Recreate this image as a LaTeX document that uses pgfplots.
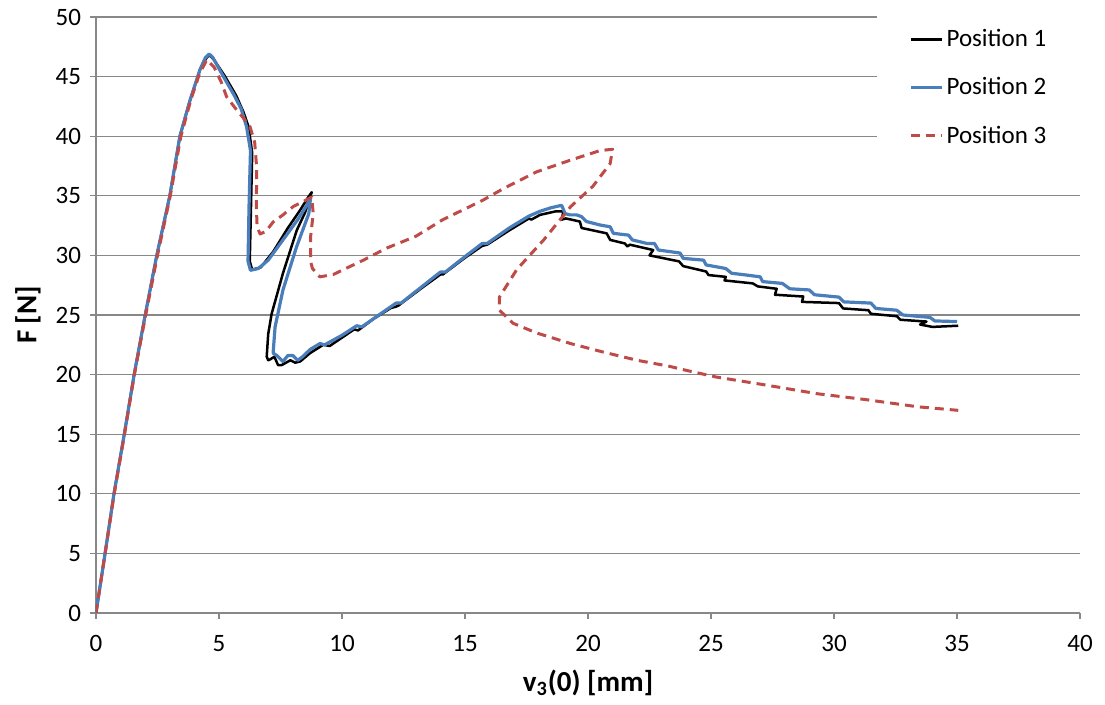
\documentclass[border=0pt]{standalone}
\usepackage{pgfplots}
\pgfplotsset{compat=1.18}
\usepackage{fontspec}
\setmainfont{Carlito}
\definecolor{exblue}{HTML}{4A7EBB}
\definecolor{exred}{HTML}{BE4B48}
\definecolor{gridgray}{HTML}{888888}
\begin{document}
\begin{tikzpicture}
\begin{axis}[
  scale only axis,
  width=492pt, height=298pt,
  xmin=0, xmax=40, ymin=0, ymax=50,
  xtick={0,5,...,40}, ytick={0,5,...,50},
  axis lines*=left,
  axis line style={gridgray, line width=0.6pt},
  tick style={gridgray, line width=0.6pt},
  tick align=outside,
  major tick length=3pt,
  ymajorgrids,
  grid style={gridgray, line width=0.6pt},
  /pgf/number format/assume math mode=true,
  tick label style={font=\fontsize{12.5}{15}\selectfont},
  xticklabel style={yshift=-4.5pt},
  yticklabel style={xshift=-1pt},
  xlabel={v\textsubscript{3}(0) [mm]},
  ylabel={F [N]},
  every axis x label/.style={at={(rel axis cs:0.5,0)}, yshift=-35pt, anchor=center, font=\fontsize{14.5}{17}\selectfont\bfseries},
  every axis y label/.style={at={(rel axis cs:0,0.5)}, xshift=-34pt, rotate=90, anchor=center, font=\fontsize{14.5}{17}\selectfont\bfseries},
  legend style={at={(rel axis cs:0.7937,1.012)}, anchor=north west, draw=none, fill=white,
    font=\fontsize{12.5}{15}\selectfont, inner xsep=16pt, inner ysep=8pt, row sep=11pt,
    nodes={inner sep=1.5pt}},
  legend cell align=left,
  legend image code/.code={\draw[#1] (0pt,0pt) -- (15.5pt,0pt);},
  line join=round,
]
\addplot[black, line width=1.25pt] coordinates {
(0,0) (0.37,5) (0.73,10) (1.15,15) (1.55,20) (2.0,25) (2.47,30) (3.0,35) (3.41,40) (3.82,43)
(4.23,45.6) (4.5,46.6) (4.62,46.8) (4.8,46.4) (5.25,45.0) (5.7,43.4) (6.0,42.0) (6.2,40.8)
(6.35,38.6) (6.3,34.0) (6.25,29.5) (6.35,28.8) (6.7,29.0) (7.2,30.3) (7.8,32.3) (8.3,33.8)
(8.6,34.8) (8.77,35.3) (8.5,33.6) (8.16,32.1) (7.6,28.5) (7.14,25.1) (7.0,23.4) (6.94,21.5)
(7.0,21.2) (7.1,21.3) (7.25,21.5) (7.4,20.8) (7.55,20.8) (7.9,21.2) (8.1,21.0) (8.3,21.1)
(8.7,21.8) (9.24,22.5) (9.5,22.4) (10.0,23.1) (10.5,23.8) (10.65,23.7) (11.3,24.7) (12.0,25.6)
(12.2,25.7) (12.3,25.8) (13.2,27.2) (14.0,28.4) (14.1,28.4) (15.0,29.8) (15.7,30.8) (15.9,30.9)
(16.8,32.1) (17.6,33.1) (17.7,33.0) (18.05,33.4) (18.7,33.7) (19.0,33.7) (18.93,33.0) (19.1,33.1)
(19.67,32.84) (19.74,32.3) (20.76,31.85) (20.9,31.3) (21.5,31.0) (21.6,30.75) (21.7,30.9)
(22.65,30.45) (22.5,30.0) (23.7,29.5) (23.87,29.1) (24.8,28.65) (24.9,28.35) (25.6,28.2)
(25.55,27.9) (26.7,27.65) (26.9,27.4) (27.67,27.2) (27.6,26.7) (28.75,26.55) (28.7,26.1)
(30.2,26.0) (30.37,25.55) (31.4,25.4) (31.5,25.1) (32.55,24.9) (32.7,24.6) (33.76,24.45)
(33.5,24.2) (34.0,24.0) (35.05,24.1)
};
\addlegendentry{Position 1}
\addplot[exblue, line width=1.6pt] coordinates {
(0,0) (0.37,5) (0.73,10) (1.15,15) (1.55,20) (2.0,25) (2.47,30) (3.0,35) (3.41,40) (3.82,43)
(4.23,45.6) (4.45,46.6) (4.6,46.9) (4.75,46.6) (5.18,45.0) (5.6,43.5) (5.9,42.3) (6.12,40.8)
(6.28,38.8) (6.22,34.0) (6.18,29.5) (6.28,28.75) (6.6,28.9) (7.0,29.6) (7.6,31.3) (8.2,33.0)
(8.6,34.3) (8.72,34.8) (8.65,33.5) (8.15,30.7) (7.6,27.1) (7.28,24.0) (7.2,21.8) (7.35,21.6)
(7.6,21.1) (7.8,21.6) (8.0,21.6) (8.2,21.2) (8.4,21.5) (8.7,22.1) (9.1,22.6) (9.3,22.5)
(10.0,23.3) (10.6,24.1) (10.8,24.0) (11.5,25.0) (12.2,26.0) (12.4,26.0) (13.2,27.3) (14.0,28.6)
(14.2,28.6) (15.0,29.9) (15.7,31.0) (15.9,31.0) (16.8,32.3) (17.6,33.3) (18.05,33.7) (18.5,34.0)
(18.93,34.2) (19.07,33.5) (19.27,33.4) (19.54,33.4) (19.74,33.25) (19.94,32.84) (20.49,32.55)
(20.9,32.4) (21.03,31.85) (21.65,31.7) (21.8,31.3) (22.4,31.0) (22.7,31.0) (22.86,30.45)
(23.74,30.2) (23.87,29.75) (24.7,29.6) (24.8,29.2) (25.6,28.9) (25.84,28.5) (26.45,28.35)
(27.0,28.2) (27.1,27.8) (27.9,27.65) (28.2,27.2) (29.0,27.1) (29.2,26.7) (30.2,26.5) (30.4,26.1)
(31.5,26.0) (31.7,25.55) (32.55,25.4) (32.8,25.0) (33.9,24.8) (34.1,24.5) (35.0,24.45)
};
\addlegendentry{Position 2}
\addplot[exred, line width=1.5pt, dash pattern=on 4.5pt off 3pt] coordinates {
(0,0) (0.37,5) (0.74,10) (1.16,15) (1.56,20) (2.02,25) (2.5,30) (3.02,35) (3.45,40) (3.85,43)
(4.2,45.2) (4.5,46.4) (4.8,45.8) (5.1,44.5) (5.31,43.3) (5.72,42.2) (6.0,41.5) (6.26,40.8)
(6.45,39.5) (6.53,37.4) (6.52,34) (6.55,32.4) (6.67,31.8) (6.9,32.0) (7.2,32.8) (7.6,33.4)
(8.02,34.1) (8.5,34.6) (8.77,34.9) (8.83,33.5) (8.72,31.5) (8.72,29.5) (8.8,28.9) (9.1,28.2)
(9.65,28.4) (10.05,28.8) (10.87,29.6) (11.8,30.6) (13.0,31.6) (14.1,33.0) (15.7,34.6)
(16.56,35.6) (17.9,37.0) (19.3,38.0) (20.5,38.8) (21.0,38.9) (20.9,37.7) (20.2,35.8)
(19.3,34.1) (18.2,31.3) (17.1,28.8) (16.4,26.5) (16.4,25.4) (16.96,24.3) (17.9,23.5)
(19.3,22.6) (20.6,21.9) (22.0,21.2) (23.3,20.7) (23.9,20.4) (25.2,19.8) (27.3,19.1)
(29.3,18.4) (31.3,17.9) (33.4,17.3) (35.05,17.0)
};
\addlegendentry{Position 3}
\end{axis}
\pgfresetboundingbox
\path (-48pt,-46pt) rectangle (504.5pt,306.5pt);
\end{tikzpicture}
\end{document}
